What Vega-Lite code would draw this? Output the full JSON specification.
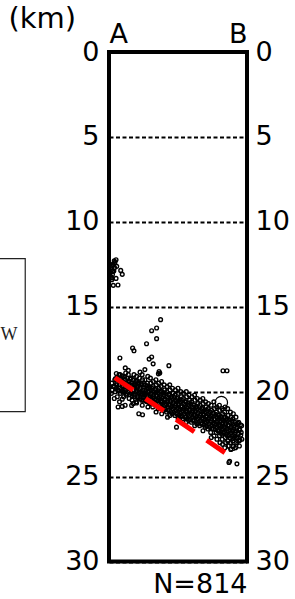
{
  "$schema": "https://vega.github.io/schema/vega-lite/v6.json",
  "width": 138,
  "height": 509.5,
  "autosize": {"type": "none"},
  "padding": {"left": 109, "top": 52, "right": 48, "bottom": 37.5},
  "background": "white",
  "config": {
    "view": {"stroke": "black", "strokeWidth": 4},
    "axis": {"labelFont": "DejaVu Sans", "titleFont": "DejaVu Sans", "labelColor": "black", "titleColor": "black", "titleFontWeight": "normal", "domain": false, "ticks": false, "tickSize": 0}
  },
  "datasets": {
    "quakes": [
      {"x":5.1,"d":12.23},{"x":4.3,"d":12.39},{"x":3.1,"d":12.52},{"x":5.6,"d":12.62},{"x":2.0,"d":12.82},{"x":2.7,"d":12.92},{"x":8.5,"d":12.86},{"x":9.6,"d":13.09},{"x":5.1,"d":13.33},{"x":2.0,"d":13.41},{"x":3.1,"d":13.74},{"x":6.5,"d":13.72},{"x":0.7,"d":13.01},{"x":1.2,"d":13.21},{"x":1.5,"d":12.7},{"x":2.2,"d":12.6},{"x":3.5,"d":12.9},{"x":1.0,"d":12.5},{"x":4.0,"d":12.7},{"x":2.5,"d":13.1},{"x":1.8,"d":13.3},{"x":3.8,"d":12.3},
      {"x":17.1,"d":17.43},{"x":18.1,"d":17.59},{"x":27.2,"d":17.18},{"x":7.9,"d":18.02},{"x":29.1,"d":18.08},{"x":30.9,"d":17.96},{"x":32.0,"d":18.36},{"x":43.4,"d":18.47},{"x":82.6,"d":18.77},{"x":85.5,"d":18.77},{"x":37.4,"d":15.76},{"x":34.5,"d":16.25},{"x":30.9,"d":16.41},{"x":34.5,"d":16.88},{"x":9.6,"d":20.44},{"x":9.6,"d":20.87},{"x":16.4,"d":20.81},{"x":20.0,"d":20.67},{"x":24.3,"d":21.36},{"x":48.9,"d":22.09},{"x":42.4,"d":21.5},{"x":86.9,"d":24.17},{"x":87.4,"d":24.1},{"x":92.7,"d":24.25},{"x":89.8,"d":23.23},{"x":36.3,"d":18.81},{"x":35.8,"d":18.95},{"x":36.8,"d":18.9},{"x":26,"d":18.7},{"x":22.5,"d":18.85},{"x":11.8,"d":18.6},{"x":14,"d":18.75},
      {"x":2.0,"d":19.5},{"x":2.4,"d":19.9},{"x":1.8,"d":20.1},{"x":3.1,"d":19.7},
      {"x":4.2,"d":19.3},{"x":4.0,"d":19.7},{"x":4.5,"d":20.0},{"x":3.8,"d":20.4},
      {"x":6.1,"d":19.2},{"x":5.8,"d":19.6},{"x":6.3,"d":19.9},{"x":6.0,"d":20.3},{"x":6.6,"d":20.9},
      {"x":8.0,"d":19.0},{"x":8.3,"d":19.4},{"x":7.8,"d":19.8},{"x":8.2,"d":20.1},{"x":7.6,"d":20.6},
      {"x":10.2,"d":19.1},{"x":9.9,"d":19.5},{"x":10.4,"d":19.7},{"x":10.0,"d":20.0},{"x":10.6,"d":20.3},
      {"x":12.1,"d":18.9},{"x":11.8,"d":19.3},{"x":12.3,"d":19.6},{"x":12.0,"d":19.9},{"x":12.5,"d":20.2},{"x":11.7,"d":20.8},
      {"x":14.0,"d":19.0},{"x":14.3,"d":19.4},{"x":13.8,"d":19.7},{"x":14.2,"d":20.0},{"x":14.6,"d":20.4},
      {"x":16.0,"d":19.2},{"x":16.4,"d":19.5},{"x":15.8,"d":19.8},{"x":16.2,"d":20.1},{"x":16.7,"d":20.5},
      {"x":18.1,"d":19.0},{"x":17.8,"d":19.3},{"x":18.4,"d":19.6},{"x":18.0,"d":19.9},{"x":18.3,"d":20.2},{"x":17.6,"d":20.7},
      {"x":20.0,"d":19.1},{"x":20.3,"d":19.4},{"x":19.8,"d":19.7},{"x":20.2,"d":20.0},{"x":20.5,"d":20.3},{"x":19.7,"d":20.6},
      {"x":22.1,"d":19.2},{"x":21.8,"d":19.5},{"x":22.4,"d":19.8},{"x":22.0,"d":20.1},{"x":22.3,"d":20.4},{"x":21.6,"d":21.3},
      {"x":24.0,"d":19.0},{"x":24.3,"d":19.3},{"x":23.8,"d":19.6},{"x":24.2,"d":19.9},{"x":24.5,"d":20.2},{"x":23.7,"d":20.5},{"x":24.1,"d":20.8},
      {"x":26.0,"d":19.3},{"x":26.4,"d":19.6},{"x":25.8,"d":19.9},{"x":26.2,"d":20.2},{"x":26.5,"d":20.5},
      {"x":28.1,"d":19.1},{"x":27.8,"d":19.5},{"x":28.3,"d":19.8},{"x":28.0,"d":20.0},{"x":28.4,"d":20.3},{"x":27.7,"d":20.6},{"x":28.2,"d":20.9},
      {"x":30.0,"d":19.2},{"x":30.3,"d":19.5},{"x":29.8,"d":19.8},{"x":30.2,"d":20.1},{"x":30.5,"d":20.4},{"x":29.7,"d":20.7},
      {"x":32.1,"d":19.4},{"x":31.8,"d":19.7},{"x":32.3,"d":20.0},{"x":32.0,"d":20.3},{"x":32.4,"d":20.6},{"x":31.7,"d":20.9},
      {"x":34.0,"d":19.3},{"x":34.3,"d":19.6},{"x":33.8,"d":19.9},{"x":34.2,"d":20.2},{"x":34.5,"d":20.5},{"x":33.7,"d":20.8},{"x":34.1,"d":21.2},
      {"x":36.0,"d":19.5},{"x":36.4,"d":19.8},{"x":35.8,"d":20.1},{"x":36.2,"d":20.4},{"x":36.5,"d":20.7},{"x":35.7,"d":21.0},
      {"x":38.1,"d":19.4},{"x":37.8,"d":19.7},{"x":38.3,"d":20.0},{"x":38.0,"d":20.3},{"x":38.4,"d":20.6},{"x":37.7,"d":20.9},{"x":38.2,"d":21.3},
      {"x":40.0,"d":19.6},{"x":40.3,"d":19.9},{"x":39.8,"d":20.2},{"x":40.2,"d":20.5},{"x":40.5,"d":20.8},{"x":39.7,"d":21.1},
      {"x":42.1,"d":19.7},{"x":41.8,"d":20.0},{"x":42.3,"d":20.3},{"x":42.0,"d":20.6},{"x":42.4,"d":20.9},{"x":41.7,"d":21.2},
      {"x":44.0,"d":19.6},{"x":44.3,"d":19.9},{"x":43.8,"d":20.2},{"x":44.2,"d":20.5},{"x":44.5,"d":20.8},{"x":43.7,"d":21.1},{"x":44.1,"d":21.4},
      {"x":46.0,"d":19.8},{"x":46.4,"d":20.1},{"x":45.8,"d":20.4},{"x":46.2,"d":20.7},{"x":46.5,"d":21.0},{"x":45.7,"d":21.3},
      {"x":48.1,"d":19.9},{"x":47.8,"d":20.2},{"x":48.3,"d":20.5},{"x":48.0,"d":20.8},{"x":48.4,"d":21.1},{"x":47.7,"d":21.4},
      {"x":50.0,"d":19.8},{"x":50.3,"d":20.1},{"x":49.8,"d":20.4},{"x":50.2,"d":20.7},{"x":50.5,"d":21.0},{"x":49.7,"d":21.3},{"x":50.1,"d":21.6},
      {"x":52.0,"d":20.0},{"x":52.4,"d":20.3},{"x":51.8,"d":20.6},{"x":52.2,"d":20.9},{"x":52.5,"d":21.2},{"x":51.7,"d":21.5},
      {"x":54.1,"d":20.1},{"x":53.8,"d":20.4},{"x":54.3,"d":20.7},{"x":54.0,"d":21.0},{"x":54.4,"d":21.3},{"x":53.7,"d":21.6},
      {"x":56.0,"d":20.0},{"x":56.3,"d":20.3},{"x":55.8,"d":20.6},{"x":56.2,"d":20.9},{"x":56.5,"d":21.2},{"x":55.7,"d":21.5},{"x":56.1,"d":21.8},
      {"x":58.0,"d":20.2},{"x":58.4,"d":20.5},{"x":57.8,"d":20.8},{"x":58.2,"d":21.1},{"x":58.5,"d":21.4},{"x":57.7,"d":21.7},
      {"x":60.1,"d":20.3},{"x":59.8,"d":20.6},{"x":60.3,"d":20.9},{"x":60.0,"d":21.2},{"x":60.4,"d":21.5},{"x":59.7,"d":21.8},
      {"x":62.0,"d":20.2},{"x":62.3,"d":20.5},{"x":61.8,"d":20.8},{"x":62.2,"d":21.1},{"x":62.5,"d":21.4},{"x":61.7,"d":21.7},{"x":62.1,"d":22.0},
      {"x":64.0,"d":20.4},{"x":64.4,"d":20.7},{"x":63.8,"d":21.0},{"x":64.2,"d":21.3},{"x":64.5,"d":21.6},{"x":63.7,"d":21.9},
      {"x":66.1,"d":20.5},{"x":65.8,"d":20.8},{"x":66.3,"d":21.1},{"x":66.0,"d":21.4},{"x":66.4,"d":21.7},{"x":65.7,"d":22.0},
      {"x":68.0,"d":20.4},{"x":68.3,"d":20.7},{"x":67.8,"d":21.0},{"x":68.2,"d":21.3},{"x":68.5,"d":21.6},{"x":67.7,"d":21.9},{"x":68.1,"d":22.3},
      {"x":70.0,"d":20.6},{"x":70.4,"d":20.9},{"x":69.8,"d":21.2},{"x":70.2,"d":21.5},{"x":70.5,"d":21.8},{"x":69.7,"d":22.1},
      {"x":72.1,"d":20.7},{"x":71.8,"d":21.0},{"x":72.3,"d":21.3},{"x":72.0,"d":21.6},{"x":72.4,"d":21.9},{"x":71.7,"d":22.2},
      {"x":74.0,"d":20.8},{"x":74.3,"d":21.1},{"x":73.8,"d":21.4},{"x":74.2,"d":21.7},{"x":74.5,"d":22.0},{"x":73.7,"d":22.4},{"x":74.1,"d":22.7},
      {"x":76.0,"d":20.6},{"x":76.4,"d":21.0},{"x":75.8,"d":21.3},{"x":76.2,"d":21.6},{"x":76.5,"d":21.9},{"x":75.7,"d":22.2},{"x":76.1,"d":22.6},
      {"x":78.1,"d":20.9},{"x":77.8,"d":21.2},{"x":78.3,"d":21.5},{"x":78.0,"d":21.8},{"x":78.4,"d":22.1},{"x":77.7,"d":22.4},{"x":78.2,"d":22.8},
      {"x":80.0,"d":20.8},{"x":80.3,"d":21.1},{"x":79.8,"d":21.4},{"x":80.2,"d":21.7},{"x":80.5,"d":22.0},{"x":79.7,"d":22.3},{"x":80.1,"d":22.6},{"x":80.4,"d":23.0},
      {"x":82.0,"d":21.0},{"x":82.4,"d":21.3},{"x":81.8,"d":21.6},{"x":82.2,"d":21.9},{"x":82.5,"d":22.2},{"x":81.7,"d":22.5},{"x":82.1,"d":22.8},{"x":82.3,"d":23.1},
      {"x":84.1,"d":20.9},{"x":83.8,"d":21.2},{"x":84.3,"d":21.5},{"x":84.0,"d":21.8},{"x":84.4,"d":22.1},{"x":83.7,"d":22.4},{"x":84.2,"d":22.7},{"x":84.5,"d":23.0},{"x":83.9,"d":23.3},
      {"x":86.0,"d":21.0},{"x":86.3,"d":21.4},{"x":85.8,"d":21.7},{"x":86.2,"d":22.0},{"x":86.5,"d":22.3},{"x":85.7,"d":22.6},{"x":86.1,"d":22.9},{"x":86.4,"d":23.2},
      {"x":88.0,"d":21.2},{"x":88.4,"d":21.5},{"x":87.8,"d":21.8},{"x":88.2,"d":22.1},{"x":88.5,"d":22.4},{"x":87.7,"d":22.7},{"x":88.1,"d":23.0},{"x":88.3,"d":23.4},
      {"x":90.1,"d":21.3},{"x":89.8,"d":21.6},{"x":90.3,"d":22.0},{"x":90.0,"d":22.3},{"x":90.4,"d":22.6},{"x":89.7,"d":22.9},{"x":90.2,"d":23.2},
      {"x":92.0,"d":21.5},{"x":92.3,"d":21.9},{"x":91.8,"d":22.3},{"x":92.2,"d":22.7},{"x":92.5,"d":23.0},{"x":91.7,"d":23.3},
      {"x":94.0,"d":21.8},{"x":94.4,"d":22.2},{"x":93.8,"d":22.5},{"x":94.2,"d":22.9},{"x":94.5,"d":23.2},
      {"x":96.1,"d":22.0},{"x":95.8,"d":22.4},{"x":96.3,"d":22.8},
      {"x":5.3,"d":18.93},{"x":4.7,"d":19.23},{"x":5.5,"d":19.53},{"x":4.9,"d":19.83},
      {"x":7.3,"d":19.0},{"x":6.7,"d":19.3},{"x":7.5,"d":19.6},{"x":6.9,"d":19.9},
      {"x":9.3,"d":19.06},{"x":8.7,"d":19.36},{"x":9.5,"d":19.66},{"x":8.9,"d":19.96},
      {"x":11.3,"d":19.13},{"x":10.7,"d":19.43},{"x":11.5,"d":19.73},{"x":10.9,"d":20.03},
      {"x":13.3,"d":19.2},{"x":12.7,"d":19.5},{"x":13.5,"d":19.8},{"x":12.9,"d":20.1},
      {"x":15.3,"d":19.26},{"x":14.7,"d":19.56},{"x":15.5,"d":19.86},{"x":14.9,"d":20.16},
      {"x":17.3,"d":19.33},{"x":16.7,"d":19.63},{"x":17.5,"d":19.93},{"x":16.9,"d":20.23},
      {"x":19.3,"d":19.4},{"x":18.7,"d":19.7},{"x":19.5,"d":20.0},{"x":18.9,"d":20.3},
      {"x":21.3,"d":19.46},{"x":20.7,"d":19.76},{"x":21.5,"d":20.06},{"x":20.9,"d":20.36},
      {"x":23.3,"d":19.53},{"x":22.7,"d":19.83},{"x":23.5,"d":20.13},{"x":22.9,"d":20.43},
      {"x":25.3,"d":19.6},{"x":24.7,"d":19.9},{"x":25.5,"d":20.2},{"x":24.9,"d":20.5},
      {"x":27.3,"d":19.66},{"x":26.7,"d":19.96},{"x":27.5,"d":20.26},{"x":26.9,"d":20.56},
      {"x":29.3,"d":19.73},{"x":28.7,"d":20.03},{"x":29.5,"d":20.33},{"x":28.9,"d":20.63},
      {"x":31.3,"d":19.8},{"x":30.7,"d":20.1},{"x":31.5,"d":20.4},{"x":30.9,"d":20.7},
      {"x":33.3,"d":19.86},{"x":32.7,"d":20.16},{"x":33.5,"d":20.46},{"x":32.9,"d":20.76},
      {"x":35.3,"d":19.93},{"x":34.7,"d":20.23},{"x":35.5,"d":20.53},{"x":34.9,"d":20.83},
      {"x":37.3,"d":20.0},{"x":36.7,"d":20.3},{"x":37.5,"d":20.6},{"x":36.9,"d":20.9},
      {"x":39.3,"d":20.07},{"x":38.7,"d":20.37},{"x":39.5,"d":20.67},{"x":38.9,"d":20.97},
      {"x":41.3,"d":20.13},{"x":40.7,"d":20.43},{"x":41.5,"d":20.73},{"x":40.9,"d":21.03},
      {"x":43.3,"d":20.2},{"x":42.7,"d":20.5},{"x":43.5,"d":20.8},{"x":42.9,"d":21.1},
      {"x":45.3,"d":20.27},{"x":44.7,"d":20.57},{"x":45.5,"d":20.87},{"x":44.9,"d":21.17},
      {"x":47.3,"d":20.33},{"x":46.7,"d":20.63},{"x":47.5,"d":20.93},{"x":46.9,"d":21.23},
      {"x":49.3,"d":20.4},{"x":48.7,"d":20.7},{"x":49.5,"d":21.0},{"x":48.9,"d":21.3},
      {"x":51.3,"d":20.47},{"x":50.7,"d":20.77},{"x":51.5,"d":21.07},{"x":50.9,"d":21.37},
      {"x":53.3,"d":20.53},{"x":52.7,"d":20.83},{"x":53.5,"d":21.13},{"x":52.9,"d":21.43},
      {"x":55.3,"d":20.6},{"x":54.7,"d":20.9},{"x":55.5,"d":21.2},{"x":54.9,"d":21.5},
      {"x":57.3,"d":20.67},{"x":56.7,"d":20.97},{"x":57.5,"d":21.27},{"x":56.9,"d":21.57},
      {"x":59.3,"d":20.73},{"x":58.7,"d":21.03},{"x":59.5,"d":21.33},{"x":58.9,"d":21.63},
      {"x":61.3,"d":20.8},{"x":60.7,"d":21.1},{"x":61.5,"d":21.4},{"x":60.9,"d":21.7},
      {"x":63.3,"d":20.87},{"x":62.7,"d":21.17},{"x":63.5,"d":21.47},{"x":62.9,"d":21.77},
      {"x":65.3,"d":20.93},{"x":64.7,"d":21.23},{"x":65.5,"d":21.53},{"x":64.9,"d":21.83},
      {"x":67.3,"d":21.0},{"x":66.7,"d":21.3},{"x":67.5,"d":21.6},{"x":66.9,"d":21.9},
      {"x":69.3,"d":21.07},{"x":68.7,"d":21.37},{"x":69.5,"d":21.67},{"x":68.9,"d":21.97},
      {"x":71.3,"d":21.13},{"x":70.7,"d":21.43},{"x":71.5,"d":21.73},{"x":70.9,"d":22.03},
      {"x":73.3,"d":21.2},{"x":72.7,"d":21.5},{"x":73.5,"d":21.8},{"x":72.9,"d":22.1},
      {"x":75.3,"d":21.27},{"x":74.7,"d":21.57},{"x":75.5,"d":21.87},{"x":74.9,"d":22.17},
      {"x":77.3,"d":21.33},{"x":76.7,"d":21.63},{"x":77.5,"d":21.93},{"x":76.9,"d":22.23},
      {"x":79.3,"d":21.4},{"x":78.7,"d":21.7},{"x":79.5,"d":22.0},{"x":78.9,"d":22.3},
      {"x":81.3,"d":21.47},{"x":80.7,"d":21.77},{"x":81.5,"d":22.07},{"x":80.9,"d":22.37},
      {"x":83.3,"d":21.53},{"x":82.7,"d":21.83},{"x":83.5,"d":22.13},{"x":82.9,"d":22.43},
      {"x":85.3,"d":21.6},{"x":84.7,"d":21.9},{"x":85.5,"d":22.2},{"x":84.9,"d":22.5},
      {"x":87.3,"d":21.67},{"x":86.7,"d":21.97},{"x":87.5,"d":22.27},{"x":86.9,"d":22.57},
      {"x":89.3,"d":21.73},{"x":88.7,"d":22.03},{"x":89.5,"d":22.33},{"x":88.9,"d":22.63},
      {"x":91.3,"d":21.8},{"x":90.7,"d":22.1},{"x":91.5,"d":22.4},{"x":90.9,"d":22.7},
      {"x":93.3,"d":21.85},{"x":92.7,"d":22.15},{"x":93.5,"d":22.45},{"x":92.9,"d":22.75},
      {"x":95.3,"d":21.95},{"x":94.7,"d":22.25},{"x":95.5,"d":22.55},{"x":94.9,"d":22.85}
    ],
    "large": [
      {"x":81.4,"d":20.64,"m":4},
      {"x":89.4,"d":23.17,"m":3}
    ],
    "trend": [
      {"x":4.3,"d":19.18},
      {"x":85.3,"d":23.66}
    ]
  },
  "layer": [
    {
      "data": {"values": [{}]},
      "mark": {"type": "rect", "fill": null, "fillOpacity": 0, "stroke": "#222222", "strokeWidth": 1.2, "clip": false},
      "encoding": {
        "x": {"datum": -95, "type": "quantitative", "scale": {"domain": [0, 100], "nice": false, "zero": false}, "axis": null},
        "x2": {"datum": -60.7},
        "y": {"datum": 12.17, "type": "quantitative", "scale": {"domain": [0, 30], "reverse": true, "nice": false, "zero": false}, "axis": null},
        "y2": {"datum": 21.18}
      }
    },
    {
      "data": {"values": [{}]},
      "mark": {"type": "text", "text": "W", "font": "Liberation Serif", "fontSize": 18, "align": "left", "baseline": "middle", "color": "#222222", "clip": false},
      "encoding": {
        "x": {"datum": -78.6, "type": "quantitative", "scale": {"domain": [0, 100], "nice": false, "zero": false}, "axis": null},
        "y": {"datum": 16.65, "type": "quantitative", "scale": {"domain": [0, 30], "reverse": true, "nice": false, "zero": false}, "axis": null}
      }
    },
    {
      "data": {"name": "quakes"},
      "mark": {"type": "point", "shape": "circle", "filled": false, "stroke": "black", "strokeWidth": 1.4, "size": 14, "opacity": 1},
      "encoding": {
        "x": {"field": "x", "type": "quantitative", "scale": {"domain": [0, 100], "nice": false, "zero": false},
          "axis": {"orient": "top", "values": [0, 100], "labelExpr": "datum.value == 0 ? 'A' : 'B'", "labelFlush": true, "labelFontSize": 27, "labelPadding": 10, "labelBaseline": "alphabetic", "grid": false, "title": null}},
        "y": {"field": "d", "type": "quantitative", "scale": {"domain": [0, 30], "reverse": true, "nice": false, "zero": false},
          "axis": {"orient": "left", "values": [0, 5, 10, 15, 20, 25, 30], "labelFontSize": 27, "labelPadding": 10, "grid": true, "gridColor": "black", "gridDash": [4, 2.5], "gridWidth": 1.8, "gridOpacity": 1,
            "title": "(km)", "titleFontSize": 29, "titleAngle": 0, "titleX": -101, "titleY": -25, "titleAlign": "left", "titleBaseline": "alphabetic"}}
      }
    },
    {
      "data": {"name": "large"},
      "mark": {"type": "point", "shape": "circle", "filled": false, "stroke": "black", "strokeWidth": 1.2, "opacity": 1},
      "encoding": {
        "x": {"field": "x", "type": "quantitative", "scale": {"domain": [0, 100], "nice": false, "zero": false}, "axis": null},
        "y": {"field": "d", "type": "quantitative", "scale": {"domain": [0, 30], "reverse": true, "nice": false, "zero": false}, "axis": null},
        "size": {"field": "m", "type": "quantitative", "scale": {"domain": [1, 4], "range": [10, 154]}, "legend": null}
      }
    },
    {
      "data": {"name": "trend"},
      "mark": {"type": "line", "color": "#ff0000", "strokeWidth": 5, "strokeDash": [22, 15], "strokeCap": "butt"},
      "encoding": {
        "x": {"field": "x", "type": "quantitative", "scale": {"domain": [0, 100], "nice": false, "zero": false},
          "axis": {"orient": "bottom", "labels": false, "grid": false, "title": "N=814", "titleFontSize": 27, "titleX": 138, "titleY": 31, "titleAlign": "right", "titleBaseline": "alphabetic"}},
        "y": {"field": "d", "type": "quantitative", "scale": {"domain": [0, 30], "reverse": true, "nice": false, "zero": false},
          "axis": {"orient": "right", "values": [0, 5, 10, 15, 20, 25, 30], "labelFontSize": 27, "labelPadding": 8, "grid": false, "title": null}}
      }
    }
  ],
  "resolve": {"axis": {"x": "independent", "y": "independent"}}
}
